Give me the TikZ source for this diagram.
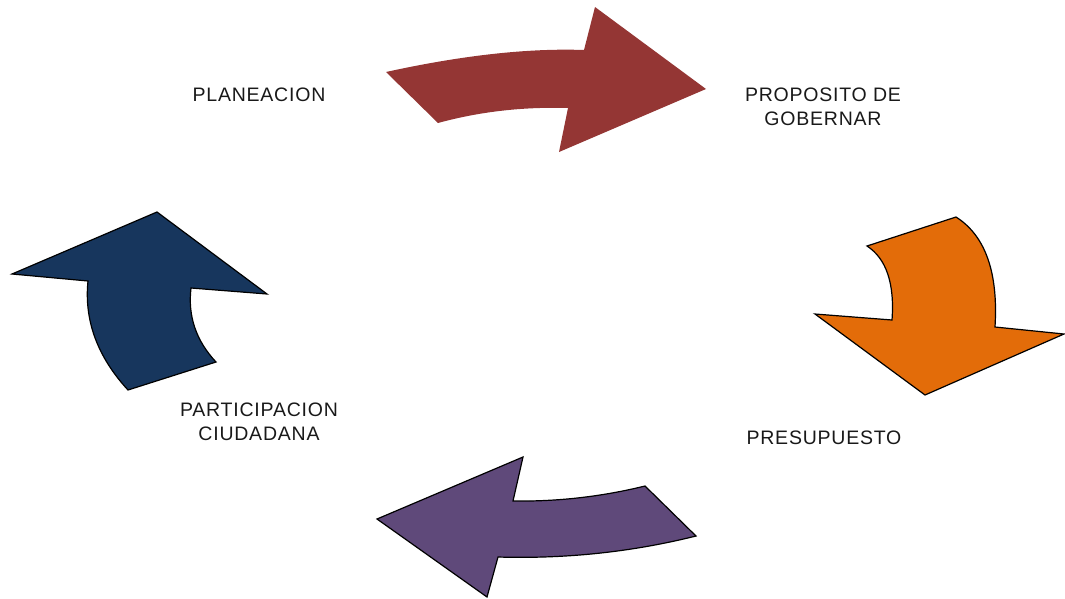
\documentclass[tikz,border=0pt]{standalone}
\usepackage{fontspec}
\setmainfont{Liberation Sans}[LetterSpace=4]
\usetikzlibrary{calc}
\definecolor{arrRed}{HTML}{943634}
\definecolor{arrOrange}{HTML}{E36C09}
\definecolor{arrPurple}{HTML}{5F497A}
\definecolor{arrBlue}{HTML}{17365D}
\tikzset{
  lbl/.style={font=\fontsize{19.5}{24}\selectfont, align=center, inner sep=0pt, text=black!90},
  arr/.style={draw=black, line width=1.2pt, line join=miter},
}
% quadratic bezier helper: \quadto{P0}{C}{P2}
\newcommand{\quadto}[3]{.. controls ($(#1)!0.6667!(#2)$) and ($(#3)!0.6667!(#2)$) .. (#3)}
\begin{document}
\begin{tikzpicture}[x=1pt,y=-1pt]
\useasboundingbox (0,0) rectangle (1065,598);
% red arrow (no outline)
\fill[arrRed] (386,72) \quadto{386,72}{500,47}{584,50} -- (595,7) -- (706,89) -- (559,152) -- (568,108) \quadto{568,108}{500,106}{438,123} -- cycle;
% orange arrow
\path[arr, fill=arrOrange] (956,217) \quadto{956,217}{1000,245}{995,327} -- (1064,334) -- (925,395) -- (815,314) -- (892,320) \quadto{892,320}{896,265}{867,246} -- cycle;
% purple arrow
\path[arr, fill=arrPurple] (645,486) -- (696,536) \quadto{696,536}{600,560}{498,557} -- (487,597) -- (377,519) -- (523,457) -- (513,501) \quadto{513,501}{580,502}{645,486} -- cycle;
% blue arrow
\path[arr, fill=arrBlue] (157,212) -- (267,294) -- (191,288) \quadto{191,288}{186,330}{216,362} -- (128,390) \quadto{128,390}{82,340}{88,281} -- (12,274) -- cycle;
% labels
\node[lbl] (planeacion) at (259,95) {PLANEACION};
\node[lbl] (proposito) at (823,107) {PROPOSITO DE\\GOBERNAR};
\node[lbl] (presupuesto) at (824,438) {PRESUPUESTO};
\node[lbl] (participacion) at (259,422) {PARTICIPACION\\CIUDADANA};
\end{tikzpicture}
\end{document}
